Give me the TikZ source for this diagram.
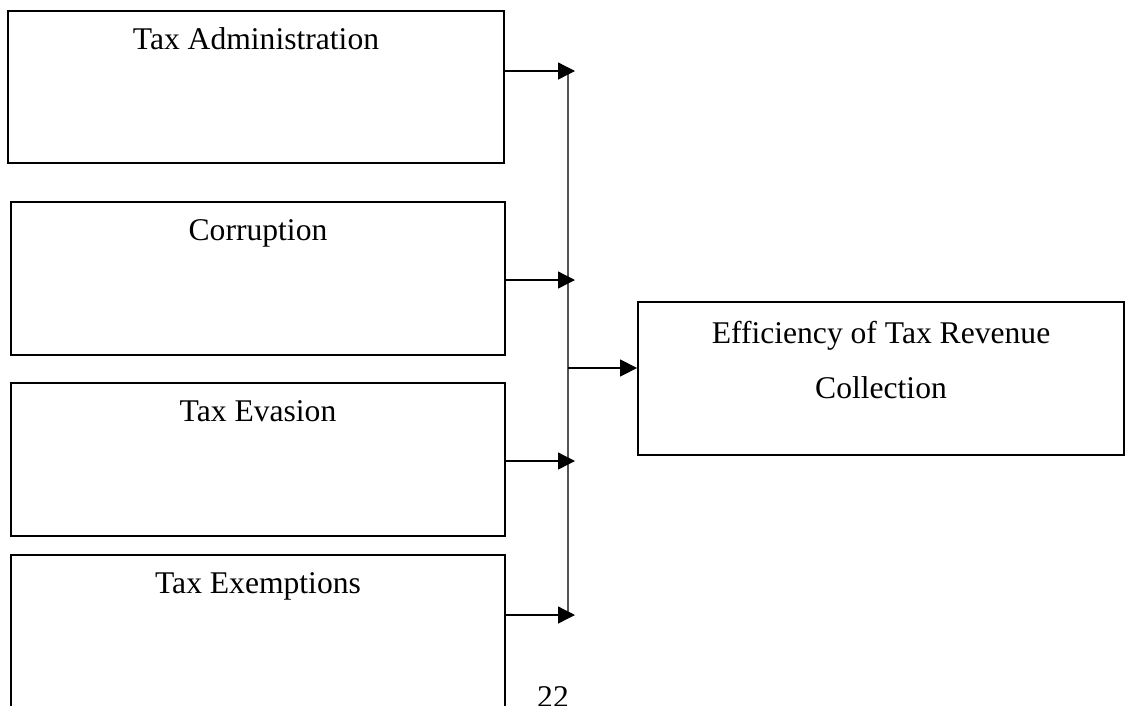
\documentclass[tikz,border=0pt]{standalone}
\usepackage{fontspec}
\setmainfont{Liberation Serif}
\usepackage{tikz}
\usetikzlibrary{arrows.meta}
\definecolor{busgray}{HTML}{555555}

\tikzset{
  factorbox/.style={draw, line width=1.8pt, minimum width=494pt, inner ysep=0pt,
    text height=38pt, text depth=115pt},
  arr/.style={->, >={Triangle[length=17pt,width=17pt]}, line width=1.3pt},
  bus/.style={line width=1.8pt, draw=busgray}
}

\begin{document}
\begin{tikzpicture}[x=1pt,y=-1pt]
\tikzstyle{every node}=[font=\fontsize{31.6pt}{38pt}\selectfont]
\useasboundingbox (0,0) rectangle (1126,705);
\clip (0,0) rectangle (1126,705);
% factor boxes on the left
\node [factorbox, minimum width=496pt, text depth=114pt] (adm) at (256,87) {Tax Administration};
\node [factorbox] (cor) at (258,278.5) {Corruption};
\node [factorbox] (eva) at (258,459.5) {Tax Evasion};
\node [factorbox] (exm) at (258,631.5) {Tax Exemptions};
% outcome box
\node [draw, line width=1.8pt, minimum width=486pt, minimum height=153pt] (eff) at (881,378.5) {};
\node [anchor=base, inner sep=0pt] (efftop) at (881,343) {Efficiency of Tax Revenue};
\node [anchor=base, inner sep=0pt] (effbot) at (881,398) {Collection};
\coordinate (tip1) at (575,71);
\coordinate (tip2) at (575,280);
\coordinate (tip3) at (575,461);
\coordinate (tip4) at (575,615);
\coordinate (bustop) at (568,71);
\coordinate (busbot) at (568,615);
\coordinate (busmid) at (568,368);
\draw [bus] (bustop) -- (busbot);
\draw [arr] (adm.east |- tip1) -- (tip1);
\draw [arr] (cor.east |- tip2) -- (tip2);
\draw [arr] (eva.east |- tip3) -- (tip3);
\draw [arr] (exm.east |- tip4) -- (tip4);
\draw [arr] (busmid) -- (busmid -| eff.west);
% page number, cut off at the bottom
\node [anchor=north, inner sep=0pt] (pagenum) at (553,686) {22};
\end{tikzpicture}
\end{document}
